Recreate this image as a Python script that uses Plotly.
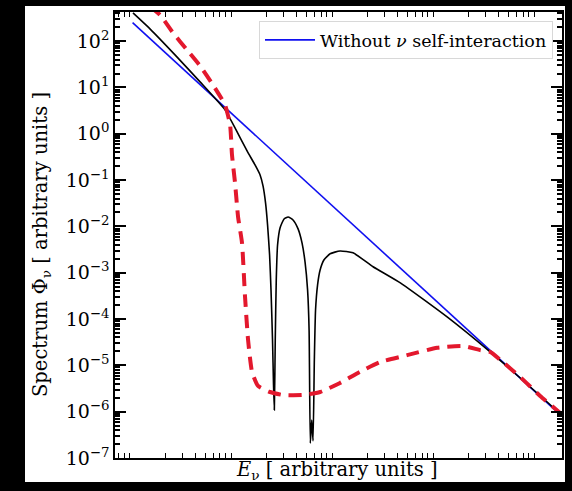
import plotly.graph_objects as go

# ---- data (log10 values) ----
blue_logE = [-0.02, 4.20]
blue_logPhi = [2.40, -6.04]

black_logE = [-0.016, 0.152, 0.40, 0.648, 0.895, 1.004, 1.113, 1.192, 1.242, 1.271, 1.296, 1.316, 1.336,
              1.350, 1.365, 1.375, 1.383, 1.392, 1.402, 1.415, 1.440, 1.479, 1.519, 1.568, 1.618, 1.657,
              1.687, 1.712, 1.727, 1.739, 1.753, 1.766, 1.779, 1.791, 1.811, 1.836, 1.875, 1.935, 2.033,
              2.162, 2.36, 2.63, 3.093, 3.519, 3.8, 4.18]
black_logPhi = [2.61, 2.266, 1.704, 1.121, 0.516, 0.084, -0.369, -0.672, -0.888, -1.125, -1.493, -1.968,
                -2.616, -3.371, -4.451, -5.423, -5.963, -4.45, -3.155, -2.40, -2.03, -1.838, -1.795, -1.86,
                -2.054, -2.356, -2.77, -3.37, -4.24, -6.68, -6.18, -6.63, -4.88, -3.80, -3.26, -2.94, -2.72,
                -2.59, -2.53, -2.57, -2.87, -3.22, -3.955, -4.71, -5.24, -5.98]

red_logE = [0.15, 0.251, 0.38, 0.519, 0.648, 0.776, 0.895, 0.945, 0.964, 0.994, 1.024, 1.063, 1.093,
            1.123, 1.162, 1.222, 1.34, 1.469, 1.667, 1.836, 2.033, 2.23, 2.43, 2.697, 2.994, 3.25,
            3.42, 3.519, 3.618, 3.816, 4.014, 4.24]
red_logPhi = [2.75, 2.568, 2.18, 1.81, 1.467, 1.056, 0.624, 0.192, -0.456, -1.06, -1.795, -2.356, -3.52,
              -4.45, -5.14, -5.445, -5.575, -5.64, -5.64, -5.575, -5.38, -5.14, -4.93, -4.78, -4.62, -4.58,
              -4.67, -4.71, -4.88, -5.25, -5.66, -6.08]

y_tickvals = [1e-7, 1e-6, 1e-5, 1e-4, 1e-3, 1e-2, 1e-1, 1e0, 1e1, 1e2]
y_ticktext = ["10<sup>−7</sup>", "10<sup>−6</sup>", "10<sup>−5</sup>", "10<sup>−4</sup>", "10<sup>−3</sup>",
              "10<sup>−2</sup>", "10<sup>−1</sup>", "10<sup>0</sup>", "10<sup>1</sup>", "10<sup>2</sup>"]

legend_label = "Without <i>ν</i> self-interaction"
x_title = "<i>E</i><sub>ν</sub> [ arbitrary units ]"
y_title = "Spectrum Φ<sub>ν</sub> [ arbitrary units ]"

def pw(v):
    return [10 ** a for a in v]

W, H = 572, 491
L, R, T, B = 115, 562, 12, 458
FONT = "DejaVu Serif, serif"

fig = go.Figure()
fig.add_trace(go.Scatter(x=pw(blue_logE), y=pw(blue_logPhi), mode="lines",
                         line=dict(color="#1010f0", width=1.6), name=legend_label, showlegend=True))
fig.add_trace(go.Scatter(x=pw(black_logE), y=pw(black_logPhi), mode="lines",
                         line=dict(color="black", width=1.6, shape="spline", smoothing=0.5),
                         showlegend=False))
fig.add_trace(go.Scatter(x=pw(red_logE), y=pw(red_logPhi), mode="lines",
                         line=dict(color="#e3182d", width=4, dash="13px,8px", shape="spline",
                                   smoothing=0.5),
                         showlegend=False))

def px2fx(p):
    return (p - L) / (R - L)

def py2fy(p):
    return (B - p) / (B - T)

fig.add_shape(type="rect", xref="paper", yref="paper", layer="below",
              x0=px2fx(25), x1=px2fx(565), y0=py2fy(482), y1=py2fy(6),
              fillcolor="white", line=dict(width=0))

fig.update_layout(
    width=W, height=H,
    margin=dict(l=L, r=W - R, t=T, b=H - B, autoexpand=False),
    paper_bgcolor="black", plot_bgcolor="white",
    font=dict(family=FONT, color="black", size=19),
    legend=dict(x=px2fx(553), y=py2fy(21), xanchor="right", yanchor="top",
                bgcolor="white", bordercolor="#d8d8d8", borderwidth=1, itemwidth=50,
                font=dict(family=FONT, size=17.5)),
    xaxis=dict(type="log", range=[-0.194, 4.23], showticklabels=False, ticks="",
               dtick=1, showgrid=False, zeroline=False, showline=True, linecolor="black",
               linewidth=1.5, mirror="allticks",
               minor=dict(ticks="inside", ticklen=5, tickcolor="black", dtick="D1", showgrid=False)),
    yaxis=dict(type="log", range=[-7.0, 2.63], tickmode="array", tickvals=y_tickvals,
               ticktext=y_ticktext, ticks="inside", ticklen=11, tickwidth=1.5, tickcolor="black",
               showgrid=False, zeroline=False, showline=True, linecolor="black", linewidth=1.5,
               mirror="allticks", tickfont=dict(size=19, family=FONT),
               minor=dict(ticks="inside", ticklen=5, tickcolor="black", dtick="D1", showgrid=False)),
    annotations=[
        dict(text=x_title, xref="paper", yref="paper", x=px2fx(337), y=py2fy(470),
             showarrow=False, xanchor="center", yanchor="middle", font=dict(size=19.5, family=FONT)),
        dict(text=y_title, xref="paper", yref="paper", x=px2fx(41), y=py2fy(245),
             showarrow=False, textangle=-90, xanchor="center", yanchor="middle",
             font=dict(size=19.5, family=FONT)),
    ],
)

fig.write_html("out.html", config={"displayModeBar": False},
               post_script="document.body.style.margin='0';")
